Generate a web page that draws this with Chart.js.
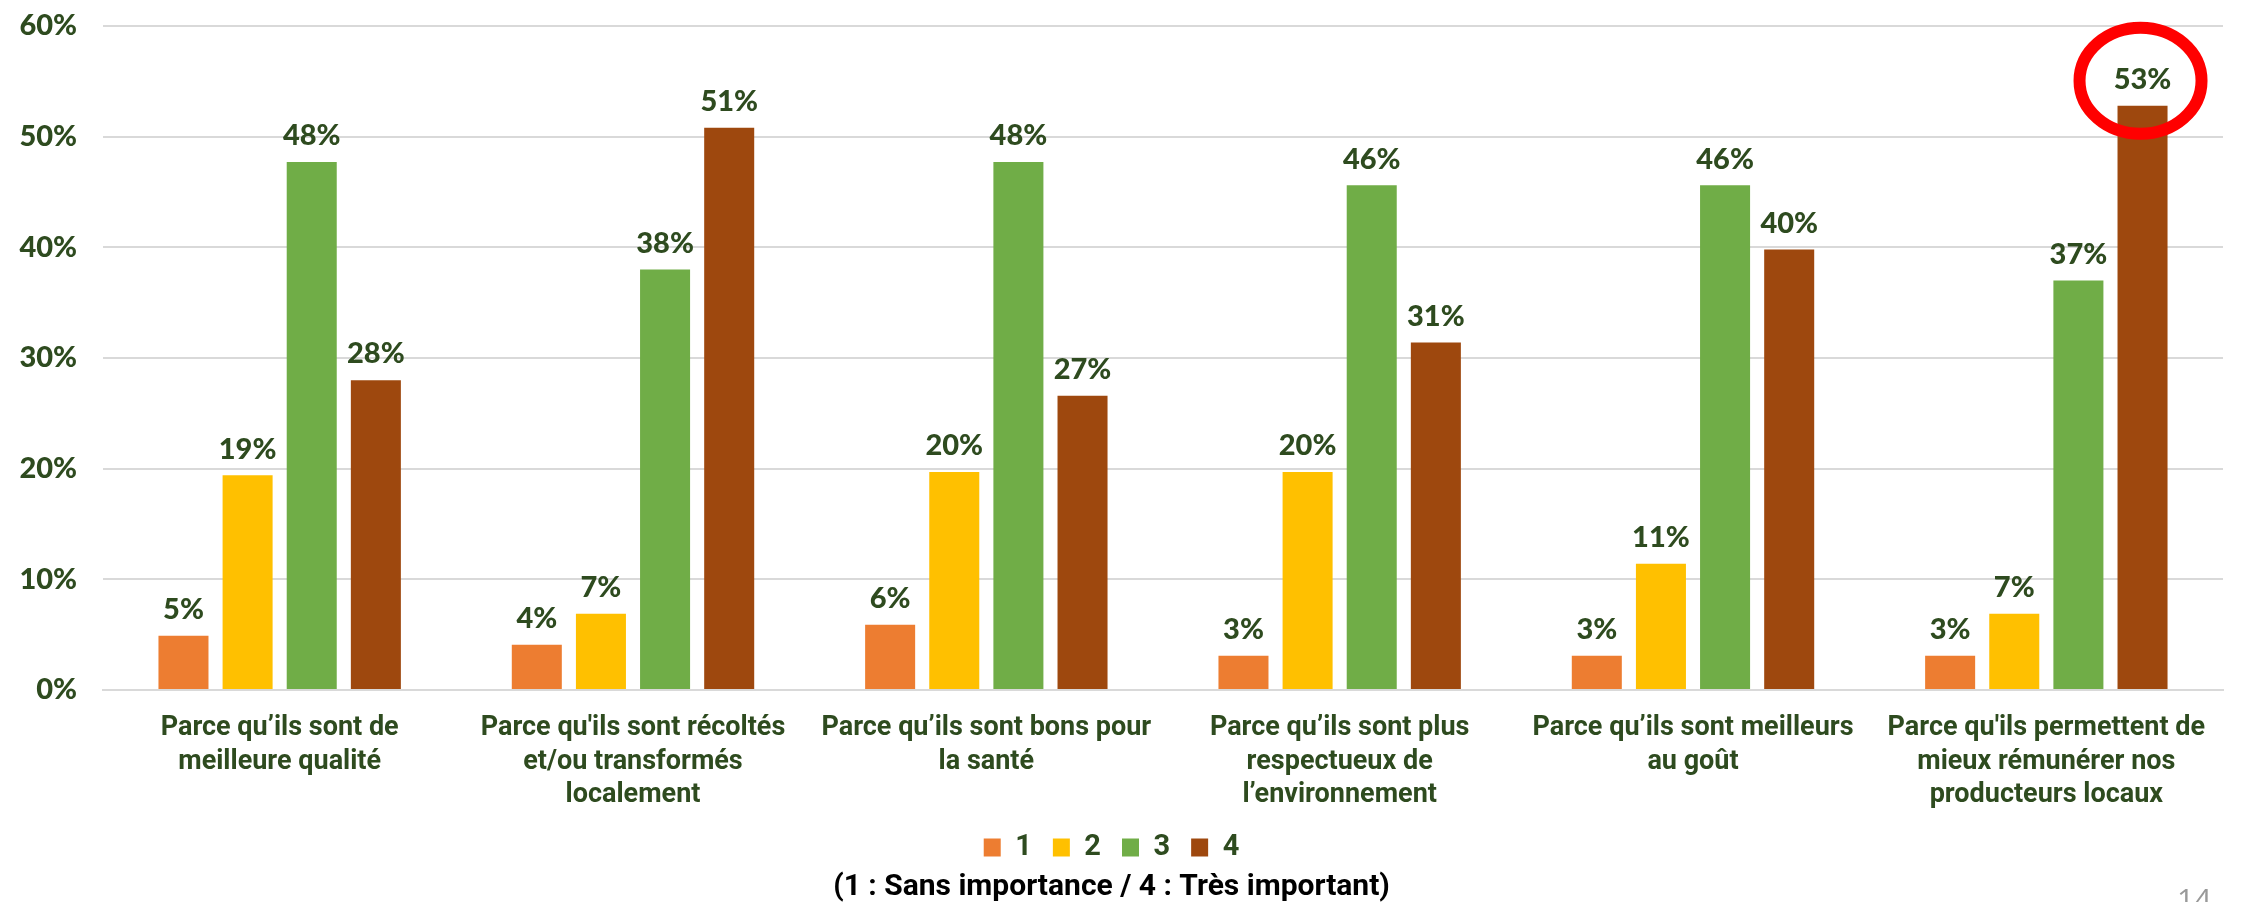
<!DOCTYPE html>
<html lang="fr">
  <head>
    <meta charset="UTF-8" />
    <title>Raisons d'acheter local</title>
    <style>
      body { margin: 0; background: #fff; }
      .wrap { width: 2244px; height: 902px; }
    </style>
  </head>
  <body>
    <div class="wrap"><canvas id="myChart"></canvas></div>

    <script src="https://cdn.jsdelivr.net/npm/chart.js"></script>
    <script>
      // categories (x axis), one line per array item
      const categories = [
        ["Parce qu’ils sont de", "meilleure qualité"],
        ["Parce qu'ils sont récoltés", "et/ou transformés", "localement"],
        ["Parce qu’ils sont bons pour", "la santé"],
        ["Parce qu’ils sont plus", "respectueux de", "l’environnement"],
        ["Parce qu’ils sont meilleurs", "au goût"],
        ["Parce qu'ils permettent de", "mieux rémunérer nos", "producteurs locaux"],
      ];

      const seriesNames = ["1", "2", "3", "4"];

      // % of answers per importance score
      const score1 = [4.9, 4.1, 5.9, 3.1, 3.1, 3.1];
      const score2 = [19.4, 6.9, 19.7, 19.7, 11.4, 6.9];
      const score3 = [47.7, 38.0, 47.7, 45.6, 45.6, 37.0];
      const score4 = [28.0, 50.8, 26.6, 31.4, 39.8, 52.8];

      const yTicks = [0, 10, 20, 30, 40, 50, 60];
      const subtitle = "(1 : Sans importance / 4 : Très important)";
      const pageNumber = "14";

      const colors = ["#ED7D31", "#FFC000", "#70AD47", "#9E480E"];
      const darkGreen = "#2E4B1F";
      const textFont = "Roboto, 'Liberation Sans', sans-serif";

      // value labels above the bars + red circle + page number
      const extras = {
        id: "extras",
        afterDatasetsDraw(chart) {
          const ctx = chart.ctx;
          ctx.save();
          ctx.font = "900 29px Lato";
          ctx.fillStyle = darkGreen;
          ctx.textAlign = "center";
          ctx.textBaseline = "middle";
          chart.data.datasets.forEach((ds, i) => {
            chart.getDatasetMeta(i).data.forEach((bar, j) => {
              ctx.fillText(Math.round(ds.data[j]) + "%", bar.x, bar.y - 26);
            });
          });

          const top = chart.getDatasetMeta(3).data[5];
          ctx.strokeStyle = "#FF0000";
          ctx.lineWidth = 12;
          ctx.beginPath();
          ctx.ellipse(top.x - 2, top.y - 25, 61, 53, 0, 0, Math.PI * 2);
          ctx.stroke();

          ctx.font = "30px 'Open Sans'";
          ctx.fillStyle = "#999";
          ctx.textAlign = "left";
          ctx.textBaseline = "alphabetic";
          ctx.fillText(pageNumber, 2177, 910);
          ctx.restore();
        },
      };

      const data = {
        labels: categories,
        datasets: [score1, score2, score3, score4].map((values, i) => ({
          label: seriesNames[i],
          data: values,
          backgroundColor: colors[i],
          categoryPercentage: 0.726,
          barPercentage: 0.78,
        })),
      };

      const config = {
        type: "bar",
        data: data,
        plugins: [extras],
        options: {
          responsive: true,
          maintainAspectRatio: false,
          devicePixelRatio: 1,
          animation: false,
          layout: { padding: { top: 26, right: 21, left: 0, bottom: 0 } },
          plugins: {
            tooltip: { enabled: false },
            legend: {
              position: "bottom",
              labels: {
                color: darkGreen,
                font: { family: textFont, size: 29, weight: "bold" },
                boxWidth: 17,
                boxHeight: 18,
                padding: 21,
              },
            },
            title: {
              display: true,
              position: "bottom",
              text: subtitle,
              color: "#000",
              font: { family: textFont, size: 30, weight: "bold", lineHeight: 1.0 },
              padding: 0,
            },
          },
          scales: {
            x: {
              grid: { display: false },
              border: { color: "#D9D9D9", width: 2 },
              ticks: {
                color: darkGreen,
                font: { family: textFont, size: 27, weight: "bold", lineHeight: 1.24 },
                padding: 14,
                maxRotation: 0,
                autoSkip: false,
              },
              afterFit: (s) => {
                s.height = 122;
              },
            },
            y: {
              min: 0,
              max: 60,
              grid: { color: "#D9D9D9", lineWidth: 2, drawTicks: false },
              border: { display: false },
              afterBuildTicks: (s) => {
                s.ticks = yTicks.map((v) => ({ value: v }));
              },
              ticks: {
                color: darkGreen,
                font: { family: "Lato", size: 29, weight: "900" },
                padding: 26,
                callback: (v) => v + "%",
              },
              afterFit: (s) => {
                s.width = 103;
                s.paddingTop = 0;
                s.paddingBottom = 0;
              },
            },
          },
        },
      };

      const myChart = new Chart(document.getElementById("myChart"), config);
    </script>
  </body>
</html>
